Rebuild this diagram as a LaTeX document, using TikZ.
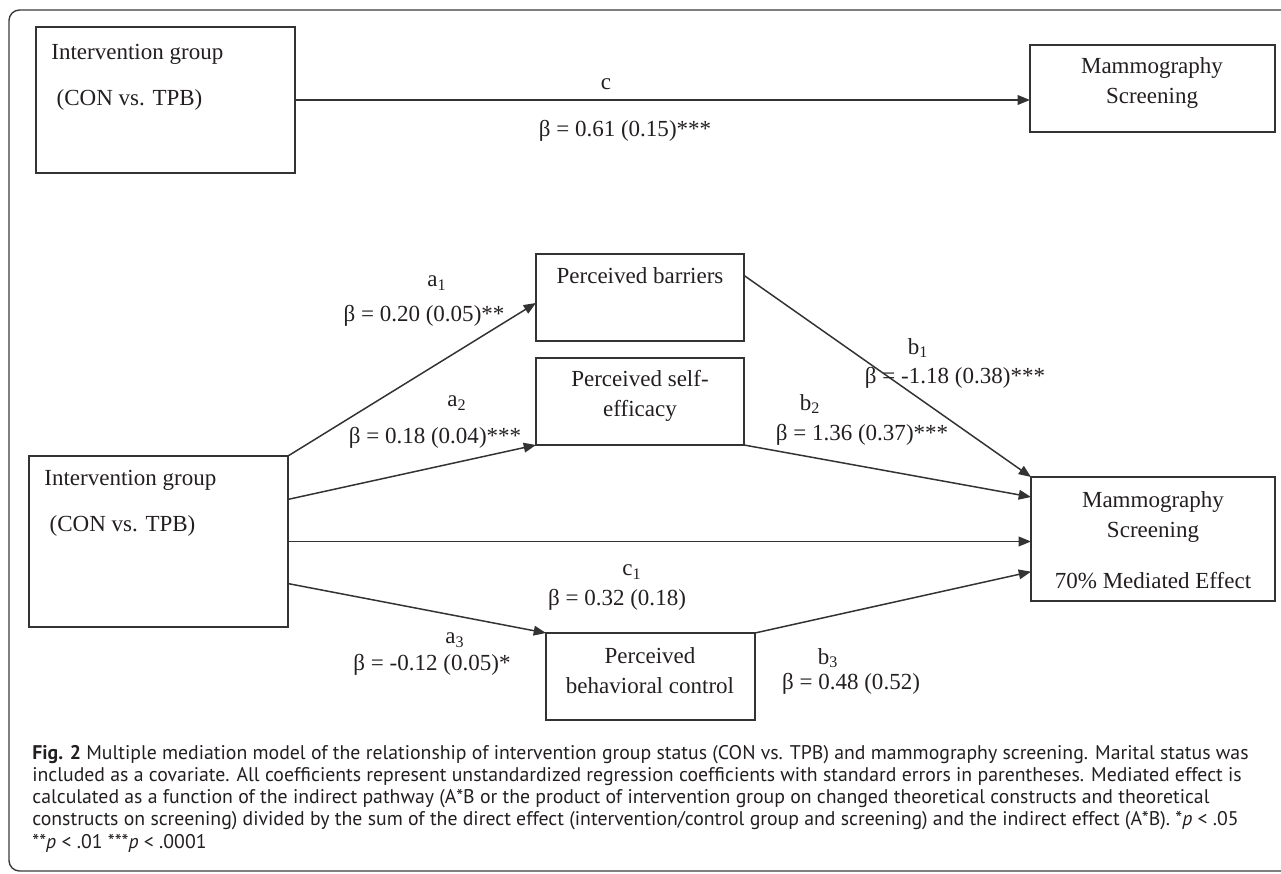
\documentclass[tikz,border=0pt]{standalone}
\usepackage{fontspec}
\setmainfont{Liberation Serif}
\newfontfamily\capfont{PT Sans}
\usetikzlibrary{arrows.meta, positioning}
\definecolor{ink}{HTML}{231F20}
\definecolor{rule}{HTML}{333333}
\definecolor{frameGray}{HTML}{3A3A3A}

\begin{document}
\begin{tikzpicture}[
  x=0.02cm, y=-0.02cm,
  every node/.style={color=ink},
  box/.style={draw=rule, line width=0.85pt, anchor=north west, inner sep=0pt, outer sep=0pt},
  txt/.style={font=\fontsize{13.1}{17}\selectfont, inner sep=0pt, align=center},
  coef/.style={font=\fontsize{13.1}{17}\selectfont, inner sep=0pt},
  link/.style={draw=rule, line width=0.85pt, -{Triangle[length=7pt, width=5.5pt]}},
  caption/.style={font=\capfont\fontsize{11.25}{12.6}\selectfont, align=left, inner sep=0pt, anchor=north west}
]
\useasboundingbox (0,0) rectangle (1281,873);

% frame
\draw[frameGray, line width=0.8pt, rounded corners=6pt] (1281,10) -- (9,10) -- (9,871) -- (1281,871);

% total effect
\node[box, minimum width=5.18cm, minimum height=2.92cm] (iga) at (36,27) {};
\node[box, minimum width=4.9cm, minimum height=1.74cm] (msa) at (1030,45) {};
\node[txt, align=left, anchor=west] (igaT) at (51,77) {Intervention group\\[9pt]\hspace*{3pt}(CON vs. TPB)};
\node[txt] (msaT) at (1152,83) {Mammography\\Screening};
\draw[link] (iga.east) -- (iga.east -| msa.west);
\node[coef] (cLab) at (606,84) {c};
\node[coef] (cCoef) at (625,131) {β = 0.61 (0.15)***};

% mediation model
\node[box, minimum width=5.18cm, minimum height=3.42cm] (igb) at (29,456) {};
\node[box, minimum width=4.16cm, minimum height=1.74cm] (pb) at (536,254) {};
\node[box, minimum width=4.16cm, minimum height=1.74cm] (pse) at (536,358) {};
\node[box, minimum width=4.18cm, minimum height=1.74cm] (pbc) at (546,633) {};
\node[box, minimum width=4.88cm, minimum height=2.48cm] (msb) at (1031,477) {};

\node[txt, align=left, anchor=west] (igbT) at (44,503) {Intervention group\\[9pt]\hspace*{3pt}(CON vs. TPB)};
\node[txt] (pbT) at (640,276) {Perceived barriers};
\node[txt] (pseT) at (640,396) {Perceived self-\\efficacy};
\node[txt] (pbcT) at (650,671) {Perceived\\behavioral control};
\node[txt] (msbT) at (1153,540) {Mammography\\Screening\\[12pt]70\% Mediated Effect};

% paths
\draw[link] (igb.north east) -- (pb.183);
\draw[link] (igb.18.6) -- (pse.south west);
\draw[link] (igb.east) -- (igb.east -| msb.west);
\draw[link] (igb.-18.6) -- (pbc.north west);
\draw[link] (pb.12.2) -- (msb.north west);
\draw[link] (pse.south east) -- (msb.161.4);
\draw[link] (pbc.north east) -- (msb.195.1);

% coefficients
\node[coef] (a1Lab) at (437,283) {a\textsubscript{1}};
\node[coef] (a1Coef) at (424,316) {β = 0.20 (0.05)**};
\node[coef] (a2Lab) at (457,403) {a\textsubscript{2}};
\node[coef] (a2Coef) at (435,438) {β = 0.18 (0.04)***};
\node[coef] (a3Lab) at (455,640) {a\textsubscript{3}};
\node[coef] (a3Coef) at (432,665) {β = -0.12 (0.05)*};
\node[coef] (b1Lab) at (918,348) {b\textsubscript{1}};
\node[coef] (b1Coef) at (955,378) {β = -1.18 (0.38)***};
\node[coef] (b2Lab) at (810,404) {b\textsubscript{2}};
\node[coef] (b2Coef) at (862,435) {β = 1.36 (0.37)***};
\node[coef] (b3Lab) at (828,658) {b\textsubscript{3}};
\node[coef] (b3Coef) at (851,684) {β = 0.48 (0.52)};
\node[coef] (c1Lab) at (632,572) {c\textsubscript{1}};
\node[coef] (c1Coef) at (617,600) {β = 0.32 (0.18)};

% caption
\node[caption] (cap) at (32,745) {\textbf{Fig. 2} Multiple mediation model of the relationship of intervention group status (CON vs. TPB) and mammography screening. Marital status was\\
included as a covariate. All coefficients represent unstandardized regression coefficients with standard errors in parentheses. Mediated effect is\\
calculated as a function of the indirect pathway (A*B or the product of intervention group on changed theoretical constructs and theoretical\\
constructs on screening) divided by the sum of the direct effect (intervention/control group and screening) and the indirect effect (A*B). *\emph{p} < .05\\
**\emph{p} < .01 ***\emph{p} < .0001};
\end{tikzpicture}
\end{document}
